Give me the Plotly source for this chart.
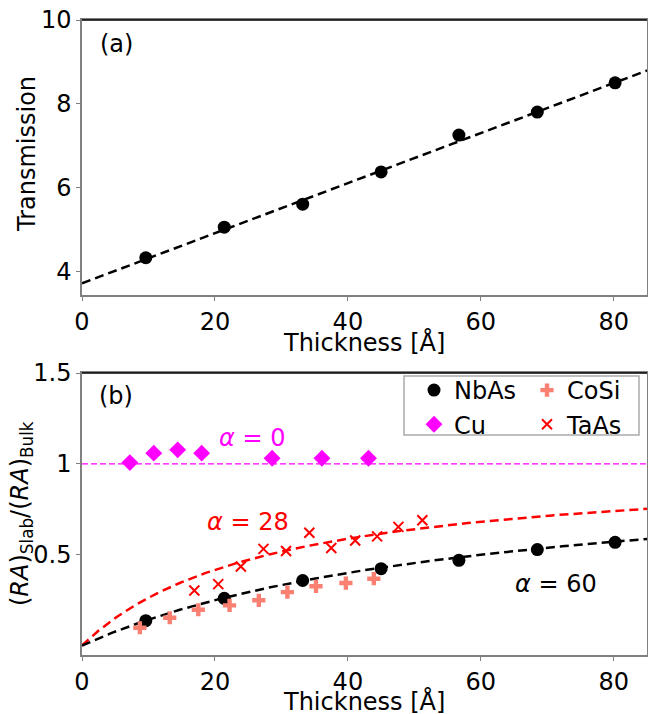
import numpy as np
import plotly.graph_objects as go

# ---------------- data ----------------
thick = [9.6, 21.4, 33.2, 45.0, 56.7, 68.5, 80.2]
transmission = [4.32, 5.05, 5.60, 6.37, 7.25, 7.80, 8.50]
trans_fit = [3.71, 0.0598]  # intercept, slope of linear fit

nbas_x = [9.6, 21.4, 33.2, 45.0, 56.7, 68.5, 80.2]
nbas_y = [0.137, 0.260, 0.358, 0.423, 0.469, 0.528, 0.568]
cu_x = [7.2, 10.8, 14.4, 18.0, 28.6, 36.1, 43.1]
cu_y = [1.007, 1.059, 1.077, 1.059, 1.031, 1.031, 1.031]
cosi_x = [8.7, 13.2, 17.5, 22.2, 26.6, 30.9, 35.2, 39.7, 43.9]
cosi_y = [0.098, 0.153, 0.197, 0.221, 0.249, 0.294, 0.326, 0.344, 0.368]
taas_x = [16.9, 20.5, 23.9, 27.3, 30.7, 34.2, 37.5, 41.1, 44.4, 47.6, 51.2]
taas_y = [0.303, 0.338, 0.435, 0.532, 0.520, 0.621, 0.537, 0.578, 0.601, 0.653, 0.690]
alphas = [0, 28, 60]
alpha_colors = ["#ff00ff", "#ff0000", "#000000"]

x_ticks = [0, 20, 40, 60, 80]
ya_ticks = [4, 6, 8, 10]
yb_ticks = [0.5, 1, 1.5]
yb_ticktext = ["0.5", "1", "1.5"]

# ---------------- figure ----------------
W, H = 648, 714
L, R, T, B = 82, 1, 20, 59
pw, ph = W - L - R, H - T - B

def py(p):
    return (H - B - p) / ph

def px(p):
    return (p - L) / pw

FONT = "DejaVu Sans"
fig = go.Figure()

t = np.linspace(0, 85, 400)

# top panel
fig.add_trace(go.Scatter(x=[0, 85], y=[trans_fit[0], trans_fit[0] + trans_fit[1] * 85],
                         mode="lines", line=dict(color="black", width=2.5, dash="9px,5px"),
                         showlegend=False, xaxis="x", yaxis="y"))
fig.add_trace(go.Scatter(x=thick, y=transmission, mode="markers",
                         marker=dict(color="black", size=13), showlegend=False,
                         xaxis="x", yaxis="y"))

# bottom panel fit curves
for a, c in zip(alphas, alpha_colors):
    if a == 0:
        yy = np.ones_like(t)
        ln = dict(color=c, width=1.3, dash="6px,3px")
    else:
        yy = t / (t + a)
        ln = dict(color=c, width=2.5, dash="9px,5px")
    fig.add_trace(go.Scatter(x=t, y=yy, mode="lines", line=ln, showlegend=False,
                             xaxis="x2", yaxis="y2"))

fig.add_trace(go.Scatter(x=nbas_x, y=nbas_y, mode="markers", name="NbAs",
                         marker=dict(color="black", size=13, symbol="circle"),
                         xaxis="x2", yaxis="y2", legend="legend"))
fig.add_trace(go.Scatter(x=cu_x, y=cu_y, mode="markers", name="Cu",
                         marker=dict(color="#ff00ff", size=13, symbol="diamond"),
                         xaxis="x2", yaxis="y2", legend="legend"))
fig.add_trace(go.Scatter(x=cosi_x, y=cosi_y, mode="markers", name="CoSi",
                         marker=dict(color="#fa8072", size=11, symbol="cross"),
                         xaxis="x2", yaxis="y2", legend="legend2"))
fig.add_trace(go.Scatter(x=taas_x, y=taas_y, mode="markers", name="TaAs",
                         marker=dict(color="red", size=10, symbol="x-thin",
                                     line=dict(color="red", width=2)),
                         xaxis="x2", yaxis="y2", legend="legend2"))

axcol = "#808080"
common_x = dict(range=[0, 85], tickvals=x_ticks, showline=True, linecolor=axcol,
                linewidth=1.5, mirror=True, ticks="outside", ticklen=4, tickcolor=axcol,
                showgrid=False, zeroline=False, tickfont=dict(size=24, color="black"),
                automargin=False)
common_y = dict(showline=True, linecolor=axcol, linewidth=1.5, mirror=True,
                ticks="outside", ticklen=4, tickcolor=axcol, showgrid=False,
                zeroline=False, tickfont=dict(size=24, color="black"), automargin=False)

top_dom = [py(295), 1.0]
bot_dom = [0.0, py(373)]

fig.update_layout(
    width=W, height=H,
    margin=dict(l=L, r=R, t=T, b=B),
    paper_bgcolor="white", plot_bgcolor="white",
    font=dict(family=FONT, size=24, color="black"),
    xaxis=dict(domain=[0, 1], anchor="y", **common_x),
    yaxis=dict(domain=top_dom, anchor="x", range=[3.43, 10], tickvals=ya_ticks,
               **common_y),
    xaxis2=dict(domain=[0, 1], anchor="y2", **common_x),
    yaxis2=dict(domain=bot_dom, anchor="x2", range=[-0.052, 1.5], tickvals=yb_ticks,
                ticktext=yb_ticktext, **common_y),
    legend=dict(x=px(414), y=py(368), xanchor="left", yanchor="top",
                bgcolor="rgba(0,0,0,0)", borderwidth=0, font=dict(size=24),
                tracegroupgap=0),
    legend2=dict(x=px(527), y=py(368), xanchor="left", yanchor="top",
                 bgcolor="rgba(0,0,0,0)", borderwidth=0, font=dict(size=24),
                 tracegroupgap=0),
    shapes=[
        dict(type="line", xref="paper", yref="paper", x0=0, x1=1, y0=1, y1=1,
             line=dict(color="black", width=1.5)),
        dict(type="line", xref="paper", yref="paper", x0=0, x1=1,
             y0=bot_dom[1], y1=bot_dom[1], line=dict(color="black", width=1.5)),
        dict(type="rect", xref="paper", yref="paper",
             x0=px(404), x1=px(639), y0=py(435), y1=py(376),
             line=dict(color="#aaaaaa", width=1.5)),
    ],
    annotations=[
        # axis titles
        dict(text="Transmission", x=px(27), y=py(154), xref="paper", yref="paper",
             textangle=-90, showarrow=False, xanchor="center", yanchor="middle",
             font=dict(size=24)),
        dict(text="Thickness [Å]", x=px(364), y=py(342), xref="paper", yref="paper",
             showarrow=False, xanchor="center", yanchor="middle", font=dict(size=24)),
        dict(text="(<i>RA</i>)<sub>Slab</sub>/(<i>RA</i>)<sub>Bulk</sub>",
             x=px(21), y=py(514), xref="paper", yref="paper",
             textangle=-90, showarrow=False, xanchor="center", yanchor="middle",
             font=dict(size=24)),
        dict(text="Thickness [Å]", x=px(364), y=py(701), xref="paper", yref="paper",
             showarrow=False, xanchor="center", yanchor="middle", font=dict(size=24)),
        # panel labels
        dict(text="(a)", x=2.4, y=9.43, xref="x", yref="y", xanchor="left",
             yanchor="middle", showarrow=False, font=dict(size=24)),
        dict(text="(b)", x=2.3, y=1.371, xref="x2", yref="y2", xanchor="left",
             yanchor="middle", showarrow=False, font=dict(size=24)),
        # fit labels
        dict(text="<i>α</i> = 0", x=25.6, y=1.144, xref="x2", yref="y2",
             showarrow=False, font=dict(size=24, color="#ff00ff")),
        dict(text="<i>α</i> = 28", x=25.0, y=0.68, xref="x2", yref="y2",
             showarrow=False, font=dict(size=24, color="red")),
        dict(text="<i>α</i> = 60", x=71.3, y=0.339, xref="x2", yref="y2",
             showarrow=False, font=dict(size=24, color="black")),
    ],
)

fig.write_html("out.html")
